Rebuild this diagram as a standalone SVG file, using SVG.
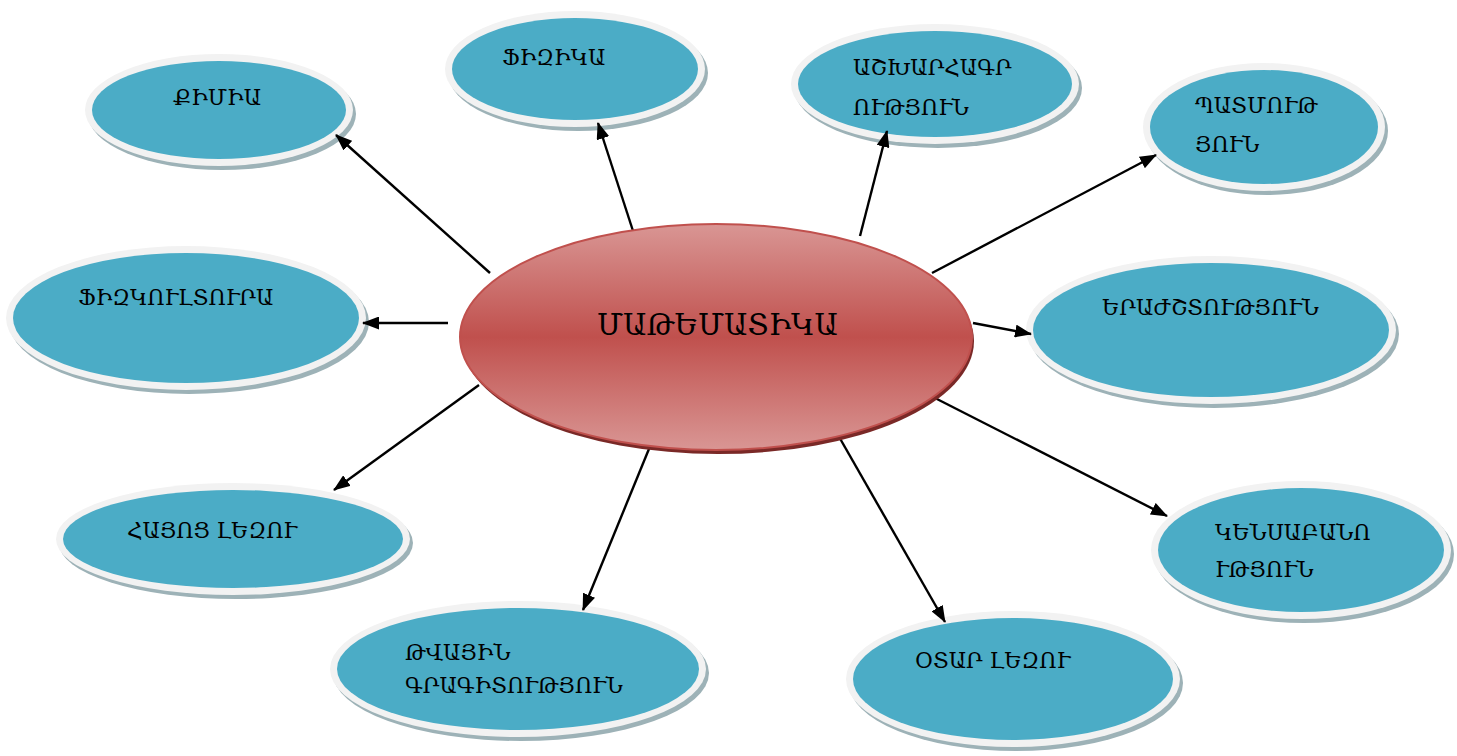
<svg xmlns="http://www.w3.org/2000/svg" width="1457" height="756" viewBox="0 0 1457 756">
<defs>
<style>
.sh{fill:#9db2b7}
.ring{fill:#f2f2f2}
.blue{fill:#4bacc6}
.t{font-family:"DejaVu Serif","DejaVu Sans",serif;font-size:21.5px;fill:#000}
.tm{font-family:"DejaVu Serif","DejaVu Sans",serif;font-size:29px;fill:#000}
.c line{stroke:#000;stroke-width:2.4;marker-end:url(#ah)}
</style>
<marker id="ah" markerUnits="userSpaceOnUse" markerWidth="17" markerHeight="13" refX="16" refY="6.5" orient="auto">
<path d="M0,0 L17,6.5 L0,13 Z" fill="#000"/>
</marker>
<linearGradient id="rg" x1="0" y1="0" x2="0" y2="1">
<stop offset="0" stop-color="#d99694"/>
<stop offset="0.5" stop-color="#c0504d"/>
<stop offset="1" stop-color="#d99694"/>
</linearGradient>
</defs>
<rect width="1457" height="756" fill="#fff"/>

<g id="n-kimia">
<ellipse class="sh" cx="222" cy="114" rx="134" ry="56"/>
<ellipse class="ring" cx="219" cy="110" rx="134" ry="56"/>
<ellipse class="blue" cx="219" cy="110" rx="127" ry="49"/>
<text class="t" x="173" y="105">ՔԻՄԻԱ</text>
</g>

<g id="n-fizika">
<ellipse class="sh" cx="578" cy="73" rx="130" ry="58"/>
<ellipse class="ring" cx="575" cy="69" rx="130" ry="58"/>
<ellipse class="blue" cx="575" cy="69" rx="123" ry="51"/>
<text class="t" x="502" y="65">ՖԻԶԻԿԱ</text>
</g>

<g id="n-ashkharhagrutyun">
<ellipse class="sh" cx="938" cy="88" rx="144" ry="60"/>
<ellipse class="ring" cx="935" cy="84" rx="144" ry="60"/>
<ellipse class="blue" cx="935" cy="84" rx="137" ry="53"/>
<text class="t" x="853" y="75">ԱՇԽԱՐՀԱԳՐ</text>
<text class="t" x="853" y="115">ՈՒԹՅՈՒՆ</text>
</g>

<g id="n-patmutyun">
<ellipse class="sh" cx="1267" cy="131" rx="121" ry="64"/>
<ellipse class="ring" cx="1264" cy="127" rx="121" ry="64"/>
<ellipse class="blue" cx="1264" cy="127" rx="114" ry="57"/>
<text class="t" x="1195" y="113">ՊԱՏՄՈՒԹ</text>
<text class="t" x="1195" y="152">ՅՈՒՆ</text>
</g>

<g id="n-fizkultura">
<ellipse class="sh" cx="189" cy="322" rx="180" ry="72"/>
<ellipse class="ring" cx="186" cy="318" rx="180" ry="72"/>
<ellipse class="blue" cx="186" cy="318" rx="173" ry="65"/>
<text class="t" x="78" y="305">ՖԻԶԿՈՒԼՏՈՒՐԱ</text>
</g>

<g id="n-erazhshtutyun">
<ellipse class="sh" cx="1214" cy="334" rx="185" ry="74"/>
<ellipse class="ring" cx="1211" cy="330" rx="185" ry="74"/>
<ellipse class="blue" cx="1211" cy="330" rx="178" ry="67"/>
<text class="t" x="1102" y="315">ԵՐԱԺՇՏՈՒԹՅՈՒՆ</text>
</g>

<g id="n-hayots">
<ellipse class="sh" cx="236" cy="543" rx="177" ry="56"/>
<ellipse class="ring" cx="233" cy="539" rx="177" ry="56"/>
<ellipse class="blue" cx="233" cy="539" rx="170" ry="49"/>
<text class="t" x="127" y="538">ՀԱՅՈՑ ԼԵԶՈՒ</text>
</g>

<g id="n-tvayin">
<ellipse class="sh" cx="521" cy="673" rx="188" ry="68"/>
<ellipse class="ring" cx="518" cy="669" rx="188" ry="68"/>
<ellipse class="blue" cx="518" cy="669" rx="181" ry="61"/>
<text class="t" x="405" y="660">ԹՎԱՅԻՆ</text>
<text class="t" x="405" y="693">ԳՐԱԳԻՏՈՒԹՅՈՒՆ</text>
</g>

<g id="n-otar">
<ellipse class="sh" cx="1016" cy="683" rx="167" ry="68"/>
<ellipse class="ring" cx="1013" cy="679" rx="167" ry="68"/>
<ellipse class="blue" cx="1013" cy="679" rx="160" ry="61"/>
<text class="t" x="915" y="668">ՕՏԱՐ ԼԵԶՈՒ</text>
</g>

<g id="n-kensabanutyun">
<ellipse class="sh" cx="1304" cy="554" rx="150" ry="69"/>
<ellipse class="ring" cx="1301" cy="550" rx="150" ry="69"/>
<ellipse class="blue" cx="1301" cy="550" rx="143" ry="62"/>
<text class="t" x="1215" y="540">ԿԵՆՍԱԲԱՆՈ</text>
<text class="t" x="1215" y="577">ՒԹՅՈՒՆ</text>
</g>

<g id="connectors" class="c">
<line x1="490" y1="273" x2="336" y2="135"/>
<line x1="634" y1="234" x2="598" y2="123"/>
<line x1="860" y1="236" x2="887" y2="131"/>
<line x1="932" y1="273" x2="1156" y2="155"/>
<line x1="448" y1="323" x2="363" y2="323"/>
<line x1="973" y1="323" x2="1031" y2="334"/>
<line x1="479" y1="385" x2="334" y2="490"/>
<line x1="651" y1="444" x2="583" y2="610"/>
<line x1="838" y1="435" x2="945" y2="622"/>
<line x1="933" y1="397" x2="1167" y2="516"/>
</g>

<g id="n-matematika">
<ellipse cx="718" cy="341" rx="256" ry="113" fill="#7a2927"/>
<ellipse cx="716" cy="337" rx="256" ry="113" fill="url(#rg)" stroke="#c0504d" stroke-width="2"/>
<text class="tm" x="597" y="335">ՄԱԹԵՄԱՏԻԿԱ</text>
</g>
</svg>
